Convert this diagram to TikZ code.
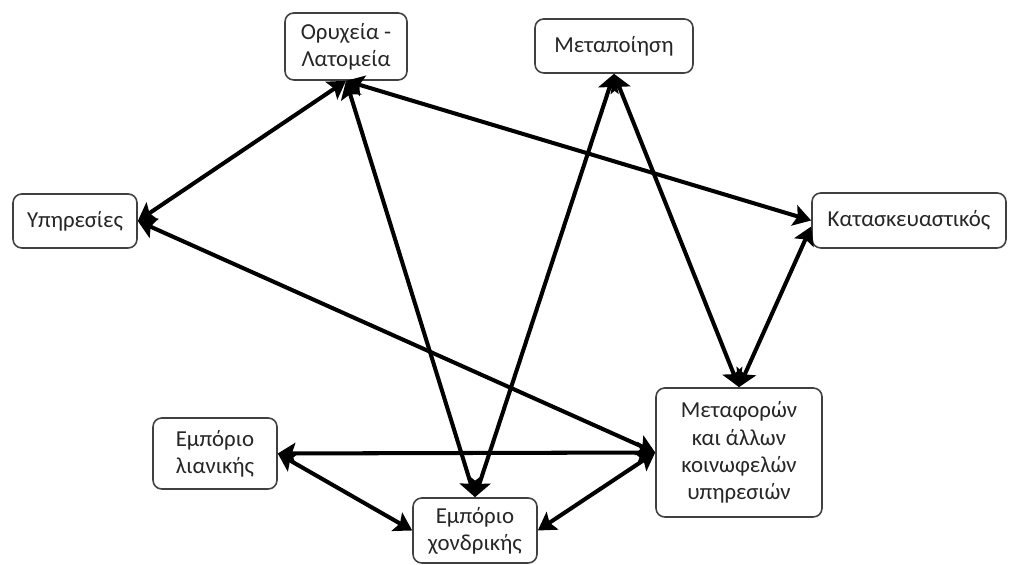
\documentclass[tikz,border=0pt]{standalone}
\usepackage{fontspec}
\setmainfont{Carlito}
\usetikzlibrary{arrows.meta}
\begin{document}
\begin{tikzpicture}[
  box/.style={draw=black!75, line width=0.9pt, rounded corners=5pt, fill=white,
    inner sep=0pt, align=center, text=black!85,
    font=\fontsize{13}{15.5}\selectfont},
  tip/.style={Stealth[length=10pt,width=12pt,inset=2pt]},
  link/.style={line width=2.3pt, {Stealth[length=10pt,width=12pt,inset=2pt]}-{Stealth[length=10pt,width=12pt,inset=2pt]}}
]
\useasboundingbox (0,0) rectangle (20.2,-11.3);

% sectors
\node[box, minimum width=2.44cm, minimum height=1.34cm] (ore)  at (6.92,-0.93)  {Ορυχεία -\\Λατομεία};
\node[box, minimum width=3.16cm, minimum height=1.08cm] (man)  at (12.28,-0.92) {Μεταποίηση};
\node[box, minimum width=2.48cm, minimum height=1.08cm] (serv) at (1.50,-4.42)  {Υπηρεσίες};
\node[box, minimum width=3.88cm, minimum height=1.10cm] (cons) at (18.18,-4.41) {Κατασκευαστικός};
\node[box, minimum width=3.32cm, minimum height=2.58cm] (trans) at (14.78,-9.05) {Μεταφορών\\και άλλων\\κοινωφελών\\υπηρεσιών};
\node[box, minimum width=2.48cm, minimum height=1.42cm] (ret)  at (4.30,-9.07)  {Εμπόριο\\λιανικής};
\node[box, minimum width=2.48cm, minimum height=1.30cm] (whole) at (9.50,-10.61) {Εμπόριο\\χονδρικής};

% interdependencies
\draw[link] (ore.south) -- (serv.east);
\draw[link] (ore.south) -- (cons.west);
\draw[link] (ore.south) -- (whole.north);
\draw[link] (man.south) -- (whole.north);
\draw[link] (man.south) -- (trans.north);
\draw[link] ([yshift=-0.12cm]cons.west) -- (trans.north);
\draw[link] (serv.east) -- (trans.west);
\draw[link] (ret.east) -- (trans.west);
\draw[link] (ret.east) -- (whole.west);
\draw[link] (whole.east) -- (trans.west);
\end{tikzpicture}
\end{document}
